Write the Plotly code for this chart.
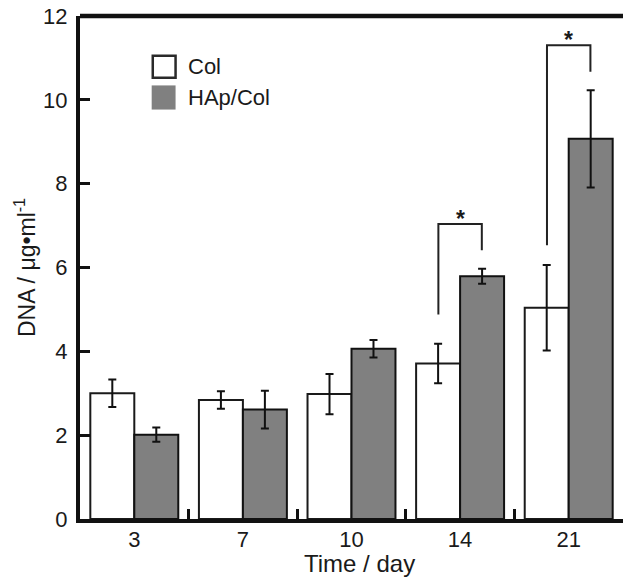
import plotly.graph_objects as go

days = ['3', '7', '10', '14', '21']
col_mean = [3.00, 2.84, 2.98, 3.71, 5.04]
col_err = [0.33, 0.21, 0.48, 0.47, 1.02]
hap_mean = [2.01, 2.61, 4.06, 5.79, 9.07]
hap_err = [0.17, 0.45, 0.21, 0.18, 1.16]
y_ticks = [0, 2, 4, 6, 8, 10, 12]

# significance brackets: group index, bracket top, left-leg bottom, right-leg bottom
sig_group = [3, 4]
sig_top = [7.04, 11.30]
sig_left_bottom = [4.88, 6.53]
sig_right_bottom = [6.41, 10.67]

FONT = "Liberation Sans, Arial, sans-serif"
TXT = "#1a1a1a"
xs = list(range(len(days)))

fig = go.Figure()
fig.add_trace(go.Bar(
    x=xs, y=col_mean, name="Col",
    marker=dict(color="white", line=dict(color="#1a1a1a", width=2)),
    error_y=dict(type="data", array=col_err, color="#111", thickness=2, width=4),
))
fig.add_trace(go.Bar(
    x=xs, y=hap_mean, name="HAp/Col",
    marker=dict(color="#808080", line=dict(color="#111", width=2)),
    error_y=dict(type="data", array=hap_err, color="#111", thickness=2, width=4),
))

off = 0.2
for g, top, lb, rb in zip(sig_group, sig_top, sig_left_bottom, sig_right_bottom):
    fig.add_shape(type="path",
                  path=f"M {g-off},{lb} L {g-off},{top} L {g+off},{top} L {g+off},{rb}",
                  xref="x", yref="y", line=dict(color="#222", width=2))
    fig.add_annotation(x=g, y=top, xref="x", yref="y", text="<b>*</b>",
                       showarrow=False, yanchor="middle", yshift=5,
                       font=dict(family=FONT, size=23, color=TXT))

# top border
fig.add_shape(type="line", xref="paper", yref="paper", x0=0, x1=1, y0=1, y1=1,
              line=dict(color="#111", width=4.5))

# manual legend
fig.add_shape(type="rect", xref="paper", yref="paper", x0=0.134, x1=0.176, y0=0.877, y1=0.921,
              line=dict(color="#2a2a2a", width=2.5), fillcolor="white")
fig.add_shape(type="rect", xref="paper", yref="paper", x0=0.132, x1=0.176, y0=0.814, y1=0.862,
              line=dict(width=0), fillcolor="#808080")
fig.add_annotation(x=0.195, y=0.899, xref="paper", yref="paper", text="Col", showarrow=False,
                   xanchor="left", yanchor="middle", font=dict(family=FONT, size=22, color=TXT))
fig.add_annotation(x=0.195, y=0.838, xref="paper", yref="paper", text="HAp/Col", showarrow=False,
                   xanchor="left", yanchor="middle", font=dict(family=FONT, size=22, color=TXT))

# x-axis title (placed as annotation to match the reference offset)
fig.add_annotation(x=0.515, y=-0.089, xref="paper", yref="paper", text="Time / day",
                   showarrow=False, xanchor="center", yanchor="middle",
                   font=dict(family=FONT, size=24, color=TXT))

fig.update_layout(
    width=623, height=578,
    margin=dict(l=80, r=0, t=16, b=59, autoexpand=False),
    paper_bgcolor="white", plot_bgcolor="white",
    barmode="group", bargap=0.19, bargroupgap=0,
    showlegend=False,
    font=dict(family=FONT, size=22, color=TXT),
    xaxis=dict(
        range=[-0.5, 4.5], tickmode="array", tickvals=xs, ticktext=days,
        ticks="inside", ticklen=0, tickcolor="rgba(0,0,0,0)",
        minor=dict(tickmode="array", tickvals=[0.5, 1.5, 2.5, 3.5], ticks="inside",
                   ticklen=10, tickwidth=3, tickcolor="#111", showgrid=False),
        showline=True, linecolor="#111", linewidth=4, showgrid=False, zeroline=False,
        tickfont=dict(size=22, color=TXT), ticklabelstandoff=-2,
        automargin=False,
    ),
    yaxis=dict(
        range=[0, 12], tickmode="array", tickvals=y_ticks,
        ticks="inside", ticklen=10, tickwidth=3, tickcolor="#111",
        showline=True, linecolor="#111", linewidth=4, showgrid=False, zeroline=False,
        tickfont=dict(size=22, color=TXT), ticklabelstandoff=4,
        title=dict(text="DNA / μg•ml<sup>-1</sup>", font=dict(size=23, color=TXT), standoff=2),
        automargin=False,
    ),
)

fig.write_html("out.html", config={"displayModeBar": False},
               post_script="document.body.style.margin='0';document.body.style.overflow='hidden';")
